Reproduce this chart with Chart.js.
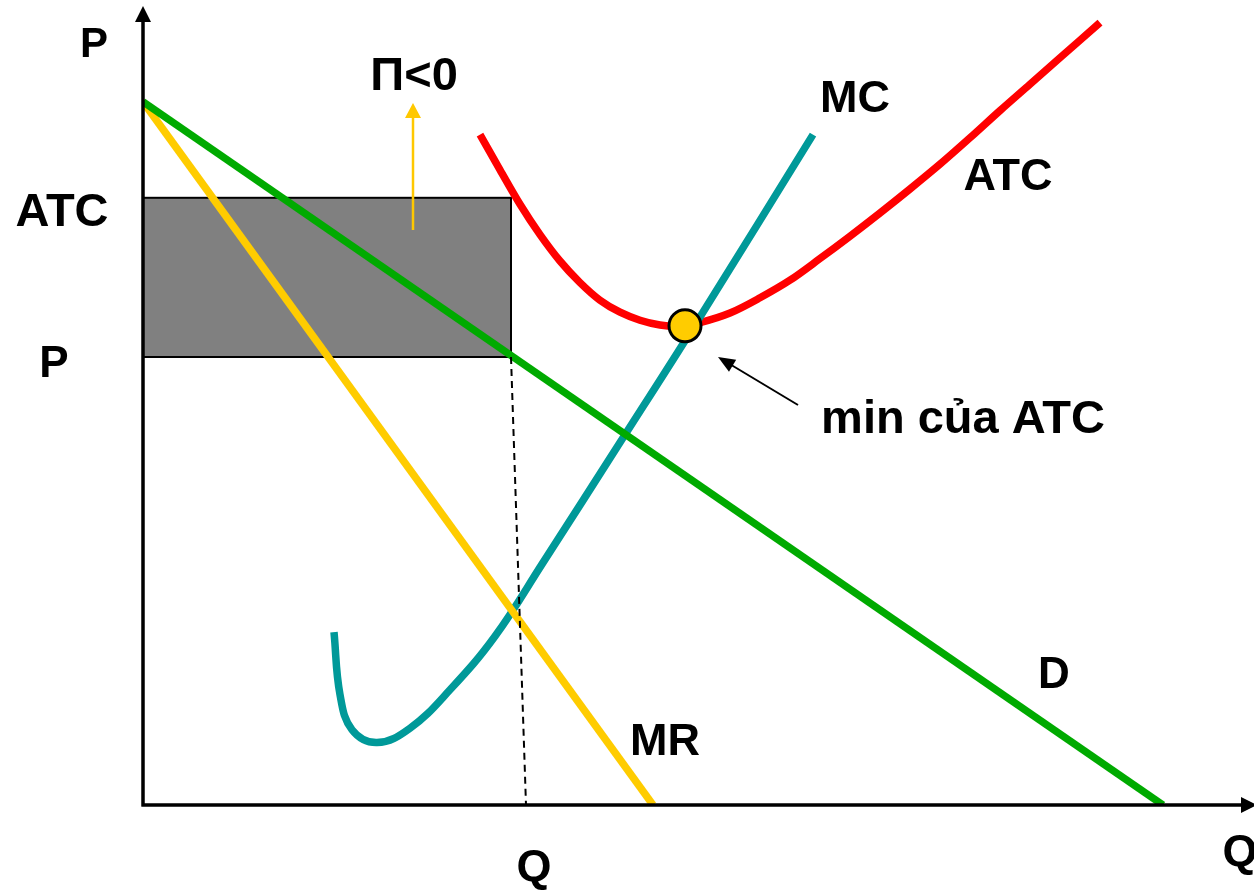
<!DOCTYPE html>
<html>
<head>
<meta charset="utf-8">
<script src="https://cdn.jsdelivr.net/npm/chart.js@4/dist/chart.umd.min.js"></script>
<style>
  html, body { margin: 0; padding: 0; background: #ffffff; }
  #wrap { width: 1254px; height: 891px; }
</style>
</head>
<body>
<div id="wrap"><canvas id="c" width="1254" height="891"></canvas></div>
<script>
// ---- Data (diagram units: Q horizontal, P vertical) ----
const demandQ = [0, 102.0];
const demandP = [87.9, 0];

const mrQ = [0, 51.0];
const mrP = [87.9, 0];

const mcQ = [19.1, 19.7, 20.9, 23.4, 26.7, 30.7, 35.2, 40.0, 47.7, 55.7, 67.0];
const mcP = [21.6, 13.8, 9.4, 7.8, 9.6, 14.4, 21.1, 30.3, 45.3, 61.0, 83.8];

const atcQ = [33.7, 35.7, 37.7, 39.7, 41.7, 43.7, 45.7, 47.7, 49.7, 51.7, 53.7, 55.7, 58.7, 61.7, 64.7, 67.7, 70.7, 73.7, 76.7, 79.7, 82.7, 85.7, 88.7, 91.7, 95.7];
const atcP = [83.8, 79.4, 75.1, 71.3, 68.0, 65.3, 63.1, 61.6, 60.6, 60.0, 59.8, 60.3, 61.5, 63.4, 65.6, 68.3, 71.1, 74.0, 77.0, 80.1, 83.4, 86.8, 90.1, 93.4, 97.8];

const outputQ = 36.8;      // profit-maximising quantity (MR = MC)
const priceP = 56.0;       // price on demand curve
const atcAtQ = 75.9;       // ATC at that quantity
const dashQ = [36.8, 38.3];
const dashP = [56.0, 0];
const minAtcQ = 54.2;
const minAtcP = 59.9;

const labels = {
  axisP: 'P', axisQ: 'Q', atcTick: 'ATC', pTick: 'P', qTick: 'Q',
  profit: 'Π<0', mc: 'MC', atc: 'ATC', d: 'D', mr: 'MR', minAtc: 'min của ATC'
};

const pts = (xs, ys) => xs.map((x, i) => ({ x: x, y: ys[i] }));

const FONT = '"Liberation Sans", Arial, Helvetica, sans-serif';

function arrowHead(ctx, x1, y1, x2, y2, len, half, color) {
  const a = Math.atan2(y2 - y1, x2 - x1);
  ctx.save();
  ctx.fillStyle = color;
  ctx.beginPath();
  ctx.moveTo(x2, y2);
  ctx.lineTo(x2 - len * Math.cos(a) + half * Math.sin(a), y2 - len * Math.sin(a) - half * Math.cos(a));
  ctx.lineTo(x2 - len * Math.cos(a) - half * Math.sin(a), y2 - len * Math.sin(a) + half * Math.cos(a));
  ctx.closePath();
  ctx.fill();
  ctx.restore();
}

const decor = {
  id: 'decor',
  beforeDatasetsDraw(chart) {
    const { ctx, scales: { x, y } } = chart;
    // loss rectangle
    const x0 = x.getPixelForValue(0), x1 = x.getPixelForValue(outputQ);
    const yTop = y.getPixelForValue(atcAtQ), yBot = y.getPixelForValue(priceP);
    ctx.save();
    ctx.fillStyle = '#808080';
    ctx.fillRect(x0, yTop, x1 - x0, yBot - yTop);
    ctx.strokeStyle = '#000000';
    ctx.lineWidth = 2;
    ctx.strokeRect(x0, yTop, x1 - x0, yBot - yTop);
    ctx.restore();
  },
  afterDatasetsDraw(chart) {
    const { ctx, scales: { x, y } } = chart;
    const ox = x.getPixelForValue(0), oy = y.getPixelForValue(0);
    ctx.save();
    // axes
    ctx.strokeStyle = '#000000';
    ctx.lineWidth = 3.5;
    ctx.beginPath();
    ctx.moveTo(ox, oy + 1.5); ctx.lineTo(ox, 20);
    ctx.moveTo(ox - 1.5, oy); ctx.lineTo(1244, oy);
    ctx.stroke();
    arrowHead(ctx, ox, oy, ox, 6, 16, 8, '#000000');
    arrowHead(ctx, ox, oy, 1257, oy, 16, 8, '#000000');

    // yellow arrow (Π<0)
    const ax = 413;
    ctx.strokeStyle = '#FFC800';
    ctx.lineWidth = 2.5;
    ctx.beginPath();
    ctx.moveTo(ax, 230); ctx.lineTo(ax, 112);
    ctx.stroke();
    arrowHead(ctx, ax, 230, ax, 103, 15, 8, '#FFC800');

    // black pointer arrow to min ATC
    ctx.strokeStyle = '#000000';
    ctx.lineWidth = 2;
    ctx.beginPath();
    ctx.moveTo(798, 405); ctx.lineTo(728, 363);
    ctx.stroke();
    arrowHead(ctx, 798, 405, 718, 357, 17, 7, '#000000');

    // min ATC point
    const cx = x.getPixelForValue(minAtcQ), cy = y.getPixelForValue(minAtcP);
    ctx.beginPath();
    ctx.arc(cx, cy, 16, 0, Math.PI * 2);
    ctx.fillStyle = '#FFCC00';
    ctx.fill();
    ctx.lineWidth = 3;
    ctx.strokeStyle = '#000000';
    ctx.stroke();

    // texts
    ctx.fillStyle = '#000000';
    ctx.textAlign = 'center';
    ctx.textBaseline = 'alphabetic';
    const t = (s, px, py, size) => { ctx.font = 'bold ' + size + 'px ' + FONT; ctx.fillText(s, px, py); };
    t(labels.axisP, 94, 57, 42);
    t(labels.atcTick, 62, 226, 47);
    t(labels.pTick, 54, 377, 44);
    t(labels.profit, 414, 90, 47);
    t(labels.mc, 855, 112, 45);
    t(labels.atc, 1008, 190, 45);
    t(labels.minAtc, 963, 433, 47);
    t(labels.d, 1054, 688, 44);
    t(labels.mr, 665, 755, 45);
    t(labels.qTick, 534, 881, 45);
    t(labels.axisQ, 1240, 866, 45);
    ctx.restore();
  }
};

new Chart(document.getElementById('c'), {
  type: 'scatter',
  data: {
    datasets: [
      { label: 'dash', data: pts(dashQ, dashP), showLine: true, borderColor: '#000000', borderWidth: 2, borderDash: [7, 5], pointRadius: 0, fill: false },
      { label: 'D', data: pts(demandQ, demandP), showLine: true, borderColor: '#00AA00', borderWidth: 7.5, pointRadius: 0, fill: false },
      { label: 'MR', data: pts(mrQ, mrP), showLine: true, borderColor: '#FFCC00', borderWidth: 7.5, pointRadius: 0, fill: false },
      { label: 'MC', data: pts(mcQ, mcP), showLine: true, borderColor: '#009999', borderWidth: 7.5, pointRadius: 0, fill: false, tension: 0.4 },
      { label: 'ATC', data: pts(atcQ, atcP), showLine: true, borderColor: '#FF0000', borderWidth: 7.5, pointRadius: 0, fill: false, cubicInterpolationMode: 'monotone' }
    ]
  },
  options: {
    responsive: false,
    devicePixelRatio: 1,
    animation: false,
    layout: { padding: { left: 143, right: 0, top: 5, bottom: 86 } },
    scales: {
      x: { type: 'linear', min: 0, max: 111.1, display: false },
      y: { type: 'linear', min: 0, max: 100, display: false }
    },
    plugins: { legend: { display: false }, tooltip: { enabled: false } },
    elements: { line: { borderCapStyle: 'butt', borderJoinStyle: 'round' } }
  },
  plugins: [decor]
});
</script>
</body>
</html>
